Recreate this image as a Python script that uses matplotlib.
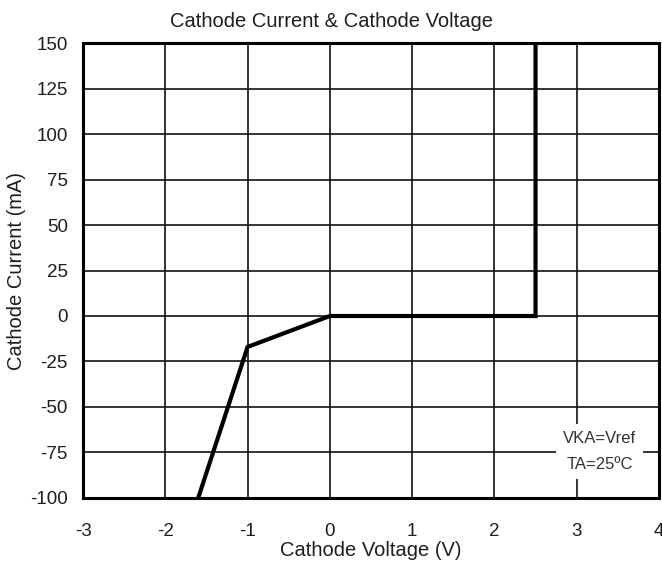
import matplotlib
matplotlib.use("Agg")
import matplotlib.pyplot as plt

plt.rcParams['font.family'] = ['Liberation Sans', 'DejaVu Sans']
plt.rcParams['axes.unicode_minus'] = False

# curve points
voltage = [-1.6, -1.0, 0.0, 2.5, 2.5]
current = [-100, -17, 0, 0, 150]

x_ticks = [-3, -2, -1, 0, 1, 2, 3, 4]
y_ticks = [-100, -75, -50, -25, 0, 25, 50, 75, 100, 125, 150]

txt = "#1e1e1e"

fig = plt.figure(figsize=(6.62, 5.69), dpi=100)
ax = fig.add_axes([0.1254, 0.1248, 0.870, 0.7996])

ax.plot(voltage, current, color="black", lw=3, solid_joinstyle="miter", zorder=3)

ax.set_xlim(-3, 4)
ax.set_ylim(-100, 150)
ax.set_xticks(x_ticks)
ax.set_yticks(y_ticks)
ax.grid(True, color="#111111", lw=1.2)
ax.tick_params(length=0, labelsize=13.5, labelcolor=txt)
ax.tick_params(axis="x", pad=18)
ax.tick_params(axis="y", pad=11)
for s in ax.spines.values():
    s.set_linewidth(2.2)

# title sits centred on the whole figure, not on the axes
fig.text(0.5, 1 - 27 / 569, "Cathode Current & Cathode Voltage", fontsize=14.5,
         ha="center", va="baseline", color=txt)
ax.set_xlabel("Cathode Voltage (V)", fontsize=14.5, labelpad=1, color=txt)
ax.set_ylabel("Cathode Current (mA)", fontsize=14.5, labelpad=3, color=txt)

ax.text(3.28, -74.5, "VKA=Vref\nTA=25ºC", fontsize=12, ha="center", va="center",
        linespacing=1.9, color="#333333",
        bbox=dict(facecolor="white", edgecolor="none", pad=5), zorder=4)

fig.savefig("out.png", dpi=100)
